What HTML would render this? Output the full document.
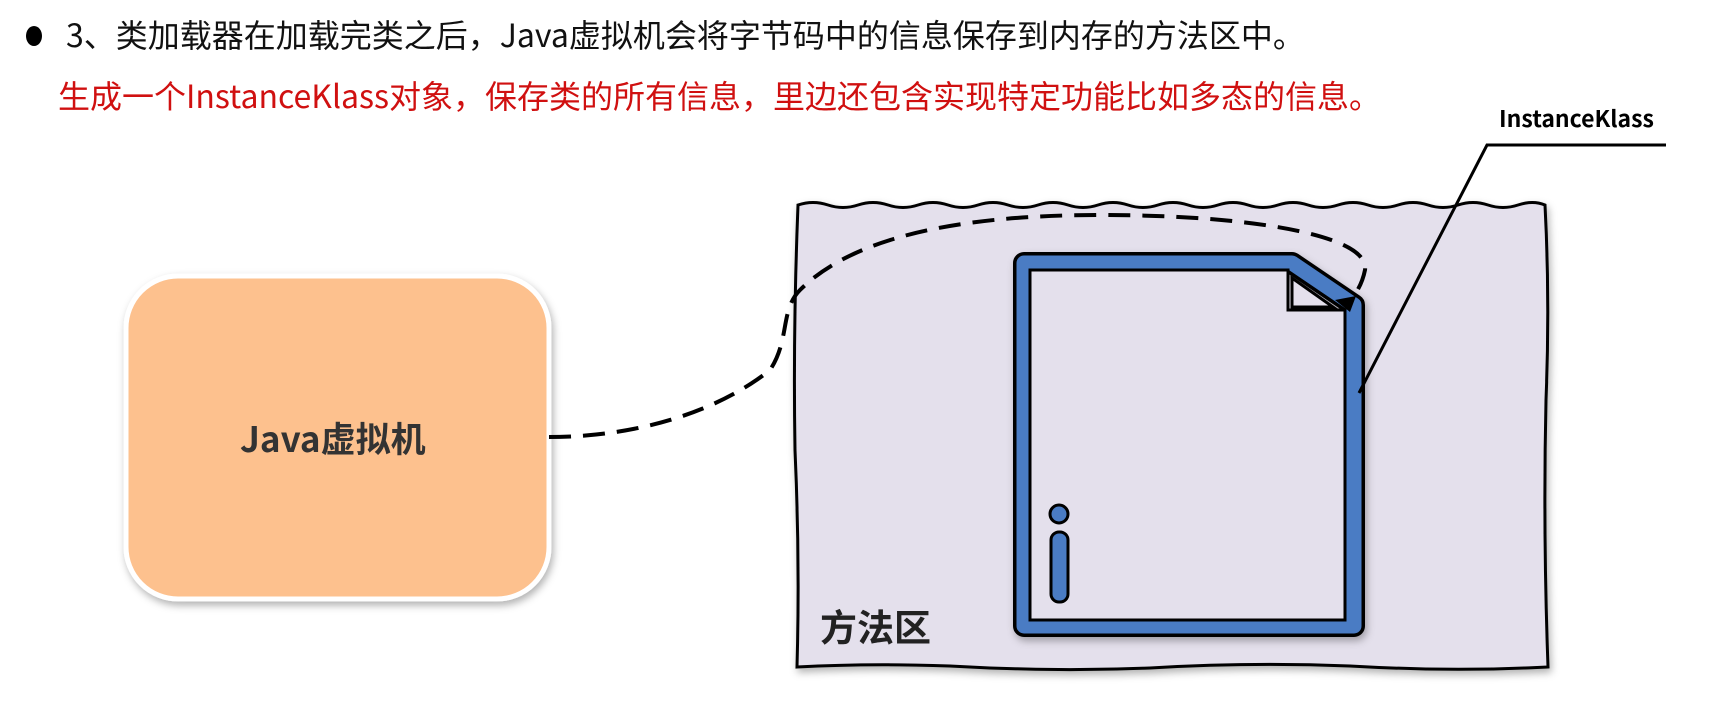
<!DOCTYPE html>
<html><head><meta charset="utf-8"><style>
body{margin:0;width:1721px;height:714px;background:#fff;overflow:hidden;position:relative;font-family:"Liberation Sans","Noto Sans CJK SC",sans-serif}
.t{position:absolute;white-space:nowrap}
</style></head><body>
<div class="t" style="left:26px;top:26px;width:16px;height:20px;border-radius:50%;background:#000"></div>
<div class="t" style="left:66px;top:14px;font-size:32px;color:#111;font-family:'Noto Sans CJK SC',sans-serif;line-height:40px">3、类加载器在加载完类之后，Java虚拟机会将字节码中的信息保存到内存的方法区中。</div>
<div class="t" style="left:58px;top:75px;font-size:32px;color:#d01010;font-family:'Noto Sans CJK SC',sans-serif;line-height:40px">生成一个InstanceKlass对象，保存类的所有信息，里边还包含实现特定功能比如多态的信息。</div>
<div class="t" style="left:1499px;top:102px;font-size:23px;font-weight:bold;color:#000;font-family:'Noto Sans CJK SC',sans-serif;line-height:30px">InstanceKlass</div>
<svg width="1721" height="714" style="position:absolute;left:0;top:0">
<defs><filter id="s"><feDropShadow dx="2" dy="4" stdDeviation="4" flood-opacity="0.3"/></filter></defs>
<path d="M798,205 Q813,200 828,205 Q843,210 858,205 Q873,200 888,205 Q903,210 918,205 Q933,200 948,205 Q963,210 978,205 Q993,200 1008,205 Q1023,210 1038,205 Q1053,200 1068,205 Q1083,210 1098,205 Q1113,200 1128,205 Q1143,210 1158,205 Q1173,200 1188,205 Q1203,210 1218,205 Q1233,200 1248,205 Q1263,210 1278,205 Q1293,200 1308,205 Q1323,210 1338,205 Q1353,200 1368,205 Q1383,210 1398,205 Q1413,200 1428,205 Q1443,210 1458,205 Q1473,200 1488,205 Q1503,210 1518,205 Q1533,200 1545,205 Q1550,300 1546,400 Q1543,530 1548,667 Q1450,672 1350,666 Q1250,662 1150,668 Q1050,672 950,666 Q870,663 797,667 Q800,560 795,450 Q793,330 798,205 Z" fill="#e4e0ec" stroke="#000" stroke-width="3" filter="url(#s)"/>
<rect x="126" y="276" width="423" height="323" rx="52" fill="#fdc18e" stroke="#fff" stroke-width="5" filter="url(#s)"/>
<path d="M1024,263 L1292,263 L1354,305 L1354,626 L1024,626 Z" fill="none" stroke="#000" stroke-width="22" stroke-linejoin="round" filter="url(#s)"/>
<path d="M1024,263 L1292,263 L1354,305 L1354,626 L1024,626 Z" fill="none" stroke="#4a7cc4" stroke-width="15" stroke-linejoin="round"/>
<path d="M1030,270 L1288,270 L1288,310 L1345,310 L1345,620 L1030,620 Z" fill="#e4e0ec" stroke="#000" stroke-width="3"/>
<path d="M1292,278 L1292,307 L1333,307 Z" fill="#e4e0ec" stroke="#000" stroke-width="3"/>
<circle cx="1059" cy="514" r="9" fill="#4a7cc4" stroke="#000" stroke-width="3"/>
<rect x="1051" y="532" width="17" height="70" rx="8" fill="#4a7cc4" stroke="#000" stroke-width="3"/>
<path d="M549,437 C640,437 720,410 770,370 C790,340 780,310 800,290 C850,240 950,215 1100,215 C1250,215 1370,235 1365,270 C1362,285 1355,295 1350,300" fill="none" stroke="#000" stroke-width="4" stroke-dasharray="22,12"/>
<path d="M1335,300 L1350,312 L1356,296 Z" fill="#000"/>
<path d="M1666,145 L1487,145 L1359,393" fill="none" stroke="#000" stroke-width="3"/>
</svg>
<div class="t" style="left:240px;top:414px;font-size:35px;font-weight:bold;color:#333;font-family:'Noto Sans CJK SC',sans-serif;line-height:48px">Java虚拟机</div>
<div class="t" style="left:820px;top:600px;font-size:37px;font-weight:bold;color:#222;font-family:'Noto Sans CJK SC',sans-serif;line-height:50px">方法区</div>
</body></html>
